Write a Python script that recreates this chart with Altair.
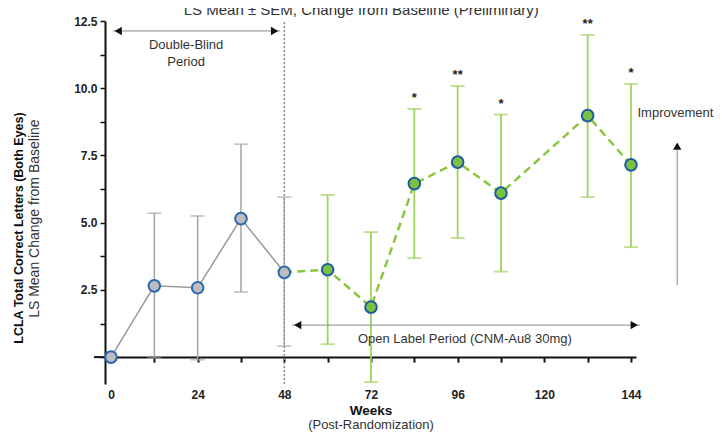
import altair as alt
import pandas as pd

# ---- data ----
weeks_db = [0, 12, 24, 36, 48]
mean_db = [0.0, 2.65, 2.58, 5.15, 3.15]
upper_db = [None, 5.35, 5.25, 7.92, 5.95]
lower_db = [None, -0.03, -0.10, 2.42, 0.41]

weeks_ol = [48, 60, 72, 84, 96, 108, 132, 144]
mean_ol = [3.15, 3.25, 1.86, 6.45, 7.25, 6.10, 8.98, 7.15]
upper_ol = [None, 6.03, 4.65, 9.23, 10.08, 9.02, 11.98, 10.16]
lower_ol = [None, 0.48, -0.93, 3.68, 4.43, 3.18, 5.95, 4.09]
stars_ol = ["", "", "", "*", "**", "*", "**", "*"]

tick_weeks = list(range(0, 145, 12))
y_ticks = [0, 1.25, 2.5, 3.75, 5, 6.25, 7.5, 8.75, 10, 11.25, 12.5]

FONT = "Liberation Sans"
W, H = 531, 363

db = pd.DataFrame(dict(week=weeks_db, mean=mean_db, lo=lower_db, hi=upper_db))
ol = pd.DataFrame(dict(week=weeks_ol, mean=mean_ol, lo=lower_ol, hi=upper_ol, star=stars_ol))
ol_pts = ol[ol.week > 48]

xs = alt.Scale(domain=[-1.66, 145.39], nice=False, zero=False)
ys = alt.Scale(domain=[-1, 12.5], nice=False, zero=False)

x_axis = alt.Axis(values=tick_weeks, labelExpr="datum.value % 24 == 0 ? datum.label : ''",
                  orient="bottom", offset=-26.9, domainWidth=2, domainColor="#111",
                  tickColor="#111", tickWidth=2, tickSize=5, labelPadding=27,
                  labelFont=FONT, labelFontWeight="bold", labelFontSize=12, labelColor="#222",
                  grid=False, title=None)
y_axis = alt.Axis(values=y_ticks,
                  labelExpr="datum.value > 0 && datum.value % 2.5 == 0 ? format(datum.value, '.1f') : ''",
                  orient="left", domainWidth=2, domainColor="#111", tickColor="#111",
                  tickWidth=1.5, tickSize=5, labelPadding=3, labelFont=FONT,
                  labelFontWeight="bold", labelFontSize=12, labelColor="#222",
                  grid=False, title=None)

X = alt.X("week:Q", scale=xs, axis=x_axis)
Ymean = alt.Y("mean:Q", scale=ys, axis=y_axis)

# dotted divider at week 48
divider = alt.Chart(pd.DataFrame({"week": [48], "y0": [-1], "y1": [12.5]})).mark_rule(
    color="#8a8a8a", strokeDash=[2, 2], strokeWidth=1.5
).encode(x=X, y=alt.Y("y0:Q", scale=ys, axis=y_axis), y2="y1:Q")

# x-axis line extension left of the y axis
ext = alt.Chart(pd.DataFrame({"a": [-4.7], "b": [-1.66], "y": [0]})).mark_rule(
    color="#111", strokeWidth=2
).encode(x=alt.X("a:Q", scale=xs, axis=x_axis), x2="b:Q", y=alt.Y("y:Q", scale=ys, axis=y_axis))

def errbars(df, color, width):
    bars = alt.Chart(df).mark_rule(color=color, strokeWidth=width).encode(
        x=X, y=alt.Y("lo:Q", scale=ys, axis=y_axis), y2="hi:Q")
    cap_lo = alt.Chart(df).mark_tick(color=color, orient="horizontal", size=14, thickness=width).encode(
        x=X, y=alt.Y("lo:Q", scale=ys, axis=y_axis))
    cap_hi = alt.Chart(df).mark_tick(color=color, orient="horizontal", size=14, thickness=width).encode(
        x=X, y=alt.Y("hi:Q", scale=ys, axis=y_axis))
    return bars + cap_lo + cap_hi

db_err = errbars(db.dropna(), "#a3a3a3", 1.5)
ol_err = errbars(ol.dropna(), "#9fd35a", 1.8)

db_line = alt.Chart(db).mark_line(color="#9a9a9a", strokeWidth=1.5).encode(x=X, y=Ymean)
ol_line = alt.Chart(ol).mark_line(color="#8cc63f", strokeWidth=2.5, strokeDash=[8, 5]).encode(x=X, y=Ymean)

db_pts = alt.Chart(db).mark_point(filled=True, fill="#bdbdbd", stroke="#2a68b0", strokeWidth=2,
                                  size=135, opacity=1, shape="circle").encode(x=X, y=Ymean)
ol_marks = alt.Chart(ol_pts).mark_point(filled=True, fill="#7cc242", stroke="#1f5d9e", strokeWidth=2,
                                        size=135, opacity=1, shape="circle").encode(x=X, y=Ymean)

stars = alt.Chart(ol_pts).mark_text(font=FONT, fontSize=13, fontWeight="bold", color="#222",
                                    baseline="alphabetic", dy=-7).encode(
    x=X, y=alt.Y("hi:Q", scale=ys, axis=y_axis), text="star:N")

# ---- annotations ----
arrow_lines = pd.DataFrame({"x1": [0.55, 50.1], "x2": [46.8, 146.5], "y": [12.13, 1.19]})
h_arrows = alt.Chart(arrow_lines).mark_rule(color="#8a8a8a", strokeWidth=1).encode(
    x=alt.X("x1:Q", scale=xs, axis=x_axis), x2="x2:Q", y=alt.Y("y:Q", scale=ys, axis=y_axis))
v_arrow = alt.Chart(pd.DataFrame({"x": [156.8], "y1": [2.68], "y2": [7.7]})).mark_rule(
    color="#8a8a8a", strokeWidth=1).encode(
    x=alt.X("x:Q", scale=xs, axis=x_axis), y=alt.Y("y1:Q", scale=ys, axis=y_axis), y2="y2:Q")

heads = pd.DataFrame({
    "x": [2.0, 45.3, 51.7, 144.9, 156.8],
    "y": [12.13, 12.13, 1.19, 1.19, 7.85],
    "shape": ["triangle-left", "triangle-right", "triangle-left", "triangle-right", "triangle-up"],
})
arrowheads = alt.Chart(heads).mark_point(filled=True, color="#111", size=70, opacity=1).encode(
    x=alt.X("x:Q", scale=xs, axis=x_axis), y=alt.Y("y:Q", scale=ys, axis=y_axis),
    shape=alt.Shape("shape:N", scale=None))

labels = pd.DataFrame({
    "x": [20.8, 20.8, 98.0, 156.3],
    "y": [11.6, 10.97, 0.67, 9.08],
    "t": ["Double-Blind", "Period", "Open Label Period (CNM-Au8 30mg)", "Improvement"],
})
ann_text = alt.Chart(labels).mark_text(font=FONT, fontSize=13, color="#333").encode(
    x=alt.X("x:Q", scale=xs, axis=x_axis), y=alt.Y("y:Q", scale=ys, axis=y_axis), text="t:N")

title_txt = alt.Chart(pd.DataFrame({"x": [69.3], "t": ["LS Mean \u00b1 SEM, Change from Baseline (Preliminary)"]})).mark_text(
    font=FONT, fontSize=15, color="#333", baseline="alphabetic").encode(
    x=alt.X("x:Q", scale=xs, axis=x_axis), y=alt.value(-6), text="t:N")

xt = pd.DataFrame({"x": [72.0], "t": ["Weeks"]})
x_title = alt.Chart(xt).mark_text(font=FONT, fontSize=13.5, fontWeight="bold", color="#111").encode(
    x=alt.X("x:Q", scale=xs, axis=x_axis), y=alt.value(H + 27), text="t:N")
xt2 = pd.DataFrame({"x": [72.0], "t": ["(Post-Randomization)"]})
x_title2 = alt.Chart(xt2).mark_text(font=FONT, fontSize=13, color="#333").encode(
    x=alt.X("x:Q", scale=xs, axis=x_axis), y=alt.value(H + 41), text="t:N")

yt = pd.DataFrame({"y": [4.8], "t": ["LCLA Total Correct Letters (Both Eyes)"]})
y_title = alt.Chart(yt).mark_text(font=FONT, fontSize=12.5, fontWeight="bold", color="#111", angle=270).encode(
    y=alt.Y("y:Q", scale=ys, axis=y_axis), x=alt.value(-86), text="t:N")
yt2 = pd.DataFrame({"y": [5.15], "t": ["LS Mean Change from Baseline"]})
y_title2 = alt.Chart(yt2).mark_text(font=FONT, fontSize=14, color="#333", angle=270).encode(
    y=alt.Y("y:Q", scale=ys, axis=y_axis), x=alt.value(-70), text="t:N")

chart = alt.layer(
    divider, ext, ol_err, db_err, db_line, ol_line, db_pts, ol_marks, stars,
    h_arrows, v_arrow, arrowheads, ann_text, title_txt, x_title, x_title2, y_title, y_title2
).properties(
    width=W, height=H,
    autosize=alt.AutoSizeParams(type="none"),
    padding={"left": 97, "top": 13, "right": 78, "bottom": 49},
    background="white",
).configure_view(stroke=None)

chart.save("out.html", embed_options={"renderer": "svg", "actions": False})
